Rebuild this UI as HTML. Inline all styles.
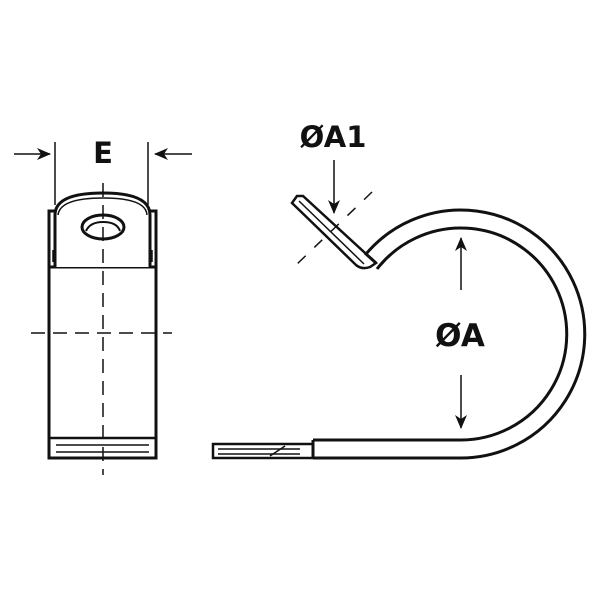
<!DOCTYPE html>
<html><head><style>html,body{margin:0;padding:0;background:#fff}svg{display:block}</style></head><body>
<svg width="600" height="600" viewBox="0 0 600 600" xmlns="http://www.w3.org/2000/svg">
<defs><marker id="ah" markerWidth="14" markerHeight="14" refX="13" refY="6" orient="auto" markerUnits="userSpaceOnUse"><path d="M0,0 L14,6 L0,12 L4,6 Z" fill="#111"/></marker></defs>
<g stroke="#111" fill="none" stroke-width="3">
<rect x="49" y="211" width="107" height="247"/>
<line x1="49" y1="267" x2="156" y2="267"/>
<path d="M55,267 L55,215 Q55,193 103,193 Q150,193 150,215 L150,267" fill="#fff"/>
<path d="M58,215 Q60,198 103,198 Q146,198 147,215" stroke-width="1.5"/>
<ellipse cx="103" cy="227" rx="21" ry="12"/>
<path d="M86,231 Q90,222 103,222 Q117,222 120,231" stroke-width="2"/>
<line x1="49" y1="438" x2="156" y2="438" stroke-width="2.5"/>
<line x1="56" y1="445" x2="149" y2="445" stroke-width="1.5"/>
<line x1="56" y1="452" x2="149" y2="452" stroke-width="1.5"/>
<line x1="53" y1="250" x2="53" y2="262" stroke-width="1.5"/>
<line x1="152" y1="250" x2="152" y2="262" stroke-width="1.5"/>
</g>
<g stroke="#111" stroke-width="1.5" stroke-dasharray="14,8" fill="none">
<line x1="103" y1="183" x2="103" y2="475"/>
<line x1="31" y1="333" x2="172" y2="333"/>
<line x1="372" y1="192" x2="295" y2="266" stroke-dasharray="11,12"/>
</g>
<g stroke="#111" stroke-width="1.5">
<line x1="55" y1="142" x2="55" y2="205"/>
<line x1="148" y1="142" x2="148" y2="205"/>
<line x1="14" y1="154" x2="50" y2="154" marker-end="url(#ah)"/>
<line x1="192" y1="154" x2="155" y2="154" marker-end="url(#ah)"/>
<line x1="334" y1="160" x2="334" y2="213" marker-end="url(#ah)"/>
<line x1="461" y1="290" x2="461" y2="238" marker-end="url(#ah)"/>
<line x1="461" y1="375" x2="461" y2="428" marker-end="url(#ah)"/>
</g>
<g stroke="#111" fill="none" stroke-width="3">
<path d="M313,458 L461,458 A124,124 0 1 0 366,254 L376,263"/>
<path d="M313,440 L461,440 A106,106 0 1 0 377,269"/>
<path d="M313,440 L313,458"/>
<path d="M297,196 L292,203 L356,265 Q362,270 370,267 L376,263 L303,196 Z" stroke-width="2.5"/>
<line x1="299" y1="201" x2="364" y2="264" stroke-width="1.5"/>
<rect x="213" y="444" width="100" height="14" stroke-width="2.5"/>
<line x1="218" y1="449" x2="300" y2="449" stroke-width="1.5"/>
<line x1="218" y1="454" x2="300" y2="454" stroke-width="1.5"/>
<line x1="270" y1="456" x2="285" y2="446" stroke-width="1.5"/>
</g>
<g font-family="DejaVu Sans, Liberation Sans, sans-serif" font-weight="bold" fill="#111" text-anchor="middle">
<text x="103" y="163" font-size="29">E</text>
<text x="333" y="147" font-size="29">ØA1</text>
<text x="460" y="346" font-size="31">ØA</text>
</g>
</svg>
</body></html>
